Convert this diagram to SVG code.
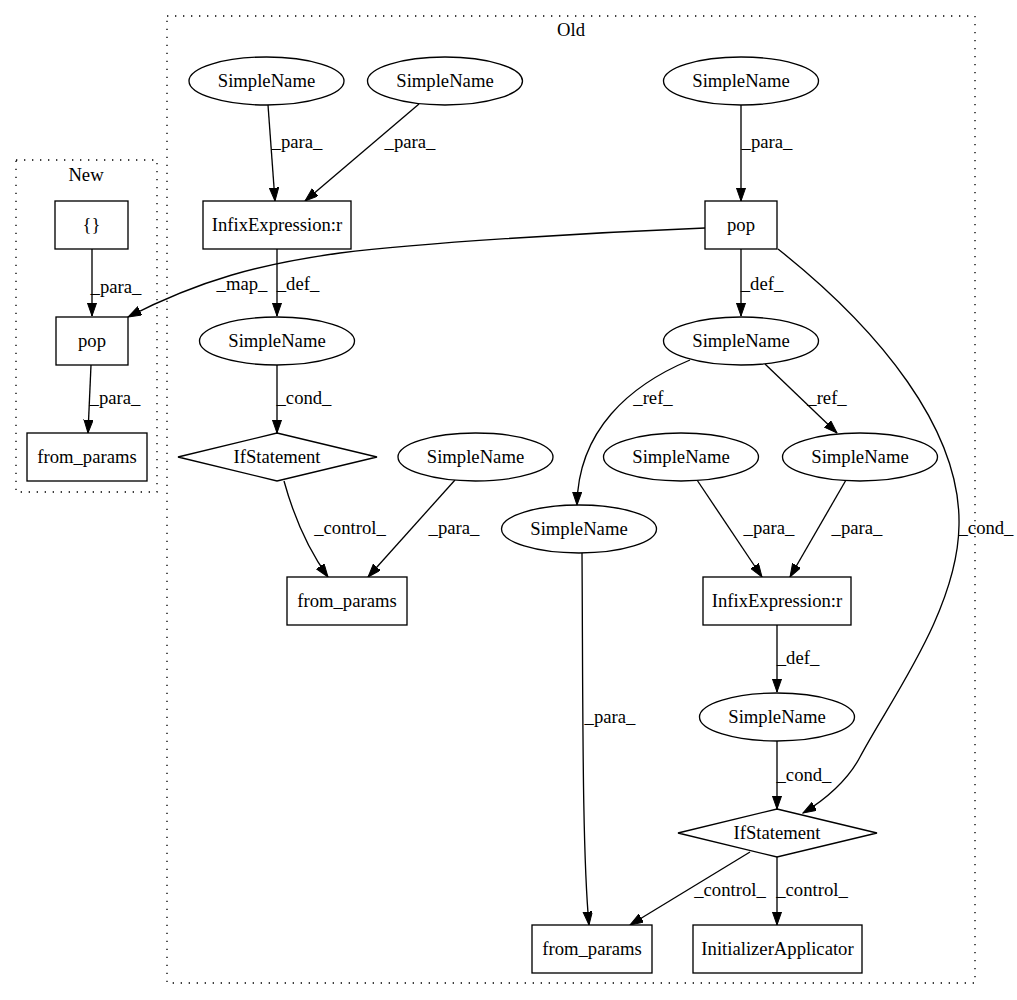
<svg xmlns="http://www.w3.org/2000/svg" width="1017" height="1000" viewBox="0 0 1017 1000">
<defs>
<marker id="arr" markerWidth="14" markerHeight="10" refX="13.3" refY="4.65" orient="auto" markerUnits="userSpaceOnUse">
<path d="M0,0 L13.3,4.65 L0,9.3 Z" fill="#000" stroke="#000" stroke-width="1"/>
</marker>
<style>
text{font-family:"Liberation Serif","Times New Roman",serif;font-size:18.67px;fill:#000;text-anchor:middle}
.n{fill:#fff;stroke:#000;stroke-width:1.33}
.e{fill:none;stroke:#000;stroke-width:1.33;marker-end:url(#arr)}
.c{fill:none;stroke:#000;stroke-width:1.33;stroke-dasharray:1.33,6.67}
</style>
</defs>
<rect width="1017" height="1000" fill="#fff"/>
<g id="cluster_new">
<rect class="c" x="16" y="160" width="141" height="332"/>
<text x="86" y="181">New</text>
</g>
<g id="cluster_old">
<rect class="c" x="167" y="16" width="808" height="967"/>
<text x="571" y="36">Old</text>
</g>
<g id="connectors">
<path class="e" d="M92,249 L92,316"/>
<text x="116" y="293">_para_</text>
<path class="e" d="M91,365 L88,433"/>
<text x="115" y="404">_para_</text>
<path class="e" d="M268,105 L275,201"/>
<text x="297" y="148">_para_</text>
<path class="e" d="M419,104 L305,201"/>
<text x="410" y="148">_para_</text>
<path class="e" d="M741,105 L741,201"/>
<text x="767" y="148">_para_</text>
<path class="e" d="M705,228 C580,233 420,243 340,253 C260,264 200,280 128,317"/>
<text x="242" y="290">_map_</text>
<path class="e" d="M277,249 L277,316"/>
<text x="298" y="290">_def_</text>
<path class="e" d="M277,365 L277,433"/>
<text x="304" y="404">_cond_</text>
<path class="e" d="M284,481 C292,510 305,545 328,577"/>
<text x="350" y="534">_control_</text>
<path class="e" d="M455,480 L368,577"/>
<text x="454" y="534">_para_</text>
<path class="e" d="M741,249 L741,316"/>
<text x="762" y="290">_def_</text>
<path class="e" d="M690,360 C630,385 578,430 577,505"/>
<text x="653" y="404">_ref_</text>
<path class="e" d="M765,364 L837,433"/>
<text x="827" y="404">_ref_</text>
<path class="e" d="M697,480 L762,577"/>
<text x="769" y="534">_para_</text>
<path class="e" d="M846,480 L790,577"/>
<text x="857" y="534">_para_</text>
<path class="e" d="M778,249 C880,330 961,430 959,525 C958,610 890,700 860,757 C848,780 825,800 803,813"/>
<text x="986" y="534">_cond_</text>
<path class="e" d="M777,625 L777,692"/>
<text x="798" y="664">_def_</text>
<path class="e" d="M777,741 L777,809"/>
<text x="804" y="781">_cond_</text>
<path class="e" d="M750,852 L630,925"/>
<text x="730" y="896">_control_</text>
<path class="e" d="M777,857 L777,925"/>
<text x="812" y="896">_control_</text>
<path class="e" d="M582,553 C583,700 582,850 589,925"/>
<text x="610" y="723">_para_</text>
</g>
<g id="new_braces"><rect class="n" x="55" y="201" width="73" height="48"/><text x="91.5" y="231">{}</text></g>
<g id="new_pop"><rect class="n" x="56" y="317" width="72" height="48"/><text x="92" y="347">pop</text></g>
<g id="new_from_params"><rect class="n" x="27" y="433" width="120" height="48"/><text x="87" y="463">from_params</text></g>
<g id="old_sn1"><ellipse class="n" cx="266.5" cy="81" rx="77.5" ry="24"/><text x="266.5" y="87">SimpleName</text></g>
<g id="old_sn2"><ellipse class="n" cx="445" cy="81" rx="77.5" ry="24"/><text x="445" y="87">SimpleName</text></g>
<g id="old_sn_top"><ellipse class="n" cx="741" cy="81" rx="77.5" ry="24"/><text x="741" y="87">SimpleName</text></g>
<g id="old_infix1"><rect class="n" x="203" y="201" width="148" height="48"/><text x="277" y="231">InfixExpression:r</text></g>
<g id="old_pop"><rect class="n" x="705" y="201" width="72" height="48"/><text x="741" y="231">pop</text></g>
<g id="old_sn3"><ellipse class="n" cx="277" cy="341" rx="77.5" ry="24"/><text x="277" y="347">SimpleName</text></g>
<g id="old_sn5"><ellipse class="n" cx="741" cy="341" rx="77.5" ry="24"/><text x="741" y="347">SimpleName</text></g>
<g id="old_if1"><polygon class="n" points="277,433 377,457 277,481 178,457"/><text x="277" y="463">IfStatement</text></g>
<g id="old_sn4"><ellipse class="n" cx="475.5" cy="457" rx="77.5" ry="24"/><text x="475.5" y="463">SimpleName</text></g>
<g id="old_sn8"><ellipse class="n" cx="681" cy="457" rx="77.5" ry="24"/><text x="681" y="463">SimpleName</text></g>
<g id="old_sn7"><ellipse class="n" cx="860" cy="457" rx="77.5" ry="24"/><text x="860" y="463">SimpleName</text></g>
<g id="old_sn6"><ellipse class="n" cx="579" cy="529" rx="77.5" ry="24"/><text x="579" y="535">SimpleName</text></g>
<g id="old_from_params1"><rect class="n" x="287" y="577" width="120" height="48"/><text x="347" y="607">from_params</text></g>
<g id="old_infix2"><rect class="n" x="703" y="577" width="148" height="48"/><text x="777" y="607">InfixExpression:r</text></g>
<g id="old_sn9"><ellipse class="n" cx="777" cy="717" rx="77.5" ry="24"/><text x="777" y="723">SimpleName</text></g>
<g id="old_if2"><polygon class="n" points="777,809 877,833 777,857 678,833"/><text x="777" y="839">IfStatement</text></g>
<g id="old_from_params2"><rect class="n" x="532" y="925" width="120" height="48"/><text x="592" y="955">from_params</text></g>
<g id="old_init"><rect class="n" x="693" y="925" width="169" height="48"/><text x="777.5" y="955">InitializerApplicator</text></g>
</svg>
